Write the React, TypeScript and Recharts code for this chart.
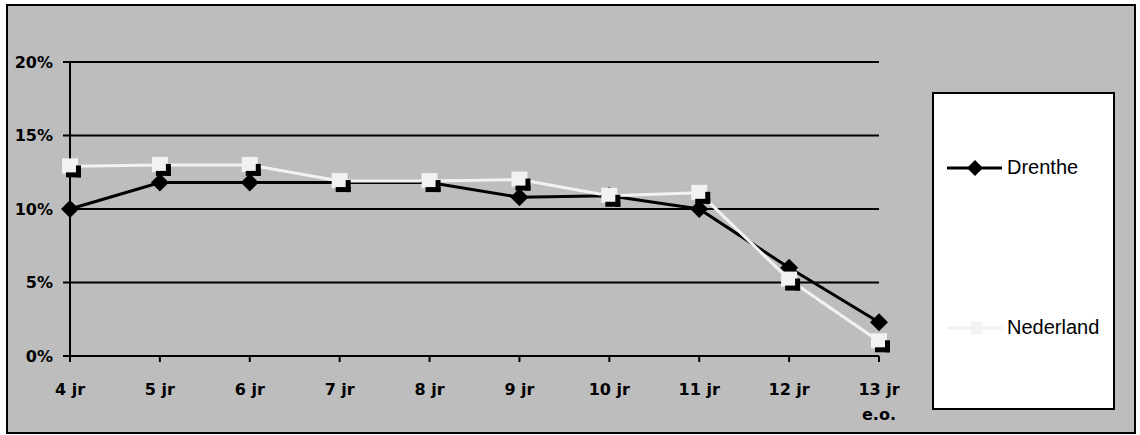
import React from "react";
import {
  LineChart,
  Line,
  XAxis,
  YAxis,
  CartesianGrid,
} from "recharts";

const CATEGORIES = ["4 jr", "5 jr", "6 jr", "7 jr", "8 jr", "9 jr", "10 jr", "11 jr", "12 jr", "13 jr\ne.o."];
const DRENTHE = [10, 11.8, 11.8, 11.8, 11.8, 10.8, 10.9, 10, 6, 2.3];
const NEDERLAND = [12.9, 13, 13, 11.9, 11.9, 12, 10.9, 11.1, 5.2, 1];
const Y_TICKS = [0, 5, 10, 15, 20];

const data = CATEGORIES.map((name, i) => ({
  name,
  drenthe: DRENTHE[i],
  nederland: NEDERLAND[i],
}));

const BG = "#bdbdbd";
const LIGHT = "#f2f2f2";
const TICK_FONT = { fontFamily: "DejaVu Sans", fontWeight: "bold", fontSize: 16, fill: "#000" };

const Diamond = (props: any) => {
  const { cx, cy } = props;
  if (cx == null || cy == null) return <g key={props.index} />;
  const r = 9;
  return (
    <path
      key={props.index}
      d={`M${cx},${cy - r} L${cx + r},${cy} L${cx},${cy + r} L${cx - r},${cy} Z`}
      fill="#000"
    />
  );
};

// light square with a dark corner, like the scanned marker
const SquareMark = (props: any) => {
  const { cx, cy } = props;
  if (cx == null || cy == null) return <g key={props.index} />;
  return (
    <g key={props.index}>
      <rect x={cx - 8} y={cy - 8} width={16} height={15} fill={LIGHT} />
      <rect x={cx + 6} y={cy - 1} width={5} height={12} fill="#000" />
      <rect x={cx - 4} y={cy + 6} width={15} height={5} fill="#000" />
    </g>
  );
};

const XTick = (props: any) => {
  const { x, y, payload } = props;
  const lines = String(payload.value).split("\n");
  return (
    <text x={x} y={y} textAnchor="middle" {...TICK_FONT}>
      {lines.map((l, i) => (
        <tspan key={i} x={x} dy={i === 0 ? 31 : 25}>
          {l}
        </tspan>
      ))}
    </text>
  );
};

const LegendBox = () => (
  <div
    style={{
      position: "absolute",
      left: 932,
      top: 92,
      width: 179,
      height: 314,
      background: "#fff",
      border: "2px solid #000",
      fontFamily: "Liberation Sans, Arial, sans-serif",
      fontSize: 20,
      color: "#000",
    }}
  >
    <svg width={60} height={20} style={{ position: "absolute", left: 13, top: 64 }}>
      <line x1={0} y1={10} x2={55} y2={10} stroke="#000" strokeWidth={3} />
      <path d="M28,2 L36,10 L28,18 L20,10 Z" fill="#000" />
    </svg>
    <span style={{ position: "absolute", left: 73, top: 62 }}>Drenthe</span>
    <svg width={60} height={20} style={{ position: "absolute", left: 13, top: 224 }}>
      <line x1={0} y1={10} x2={55} y2={10} stroke={LIGHT} strokeWidth={3} />
      <rect x={24} y={4} width={12} height={12} fill={LIGHT} />
    </svg>
    <span style={{ position: "absolute", left: 73, top: 222 }}>Nederland</span>
  </div>
);

export default function App() {
  return (
    <div style={{ position: "absolute", left: 0, top: 0, width: 1140, height: 435, background: "#fff" }}>
      <div
        style={{
          position: "absolute",
          left: 6,
          top: 4,
          width: 1126,
          height: 426,
          border: "2px solid #000",
          background: BG,
        }}
      />
      <div style={{ position: "absolute", left: 0, top: 0 }}>
        <LineChart
          width={1140}
          height={435}
          data={data}
          margin={{ top: 62, right: 261, bottom: 49, left: 10 }}
        >
          <CartesianGrid vertical={false} stroke="#000" strokeWidth={2} />
          <XAxis
            dataKey="name"
            interval={0}
            padding={{ left: 0, right: 0 }}
            axisLine={{ stroke: "#000", strokeWidth: 2 }}
            tickLine={{ stroke: "#000", strokeWidth: 2 }}
            tickSize={6}
            tick={<XTick />}
            height={30}
          />
          <YAxis
            width={60}
            domain={[0, 20]}
            ticks={Y_TICKS}
            interval={0}
            tickFormatter={(v: number) => `${v}%`}
            axisLine={{ stroke: "#000", strokeWidth: 2 }}
            tickLine={{ stroke: "#000", strokeWidth: 2 }}
            tickSize={7}
            tickMargin={10}
            tick={TICK_FONT}
          />
          <Line
            type="linear"
            dataKey="drenthe"
            name="Drenthe"
            stroke="#000"
            strokeWidth={3}
            dot={(p: any) => <Diamond {...p} />}
            activeDot={false}
            isAnimationActive={false}
          />
          <Line
            type="linear"
            dataKey="nederland"
            name="Nederland"
            stroke={LIGHT}
            strokeWidth={3}
            dot={(p: any) => <SquareMark {...p} />}
            activeDot={false}
            isAnimationActive={false}
          />
        </LineChart>
      </div>
      <LegendBox />
    </div>
  );
}
